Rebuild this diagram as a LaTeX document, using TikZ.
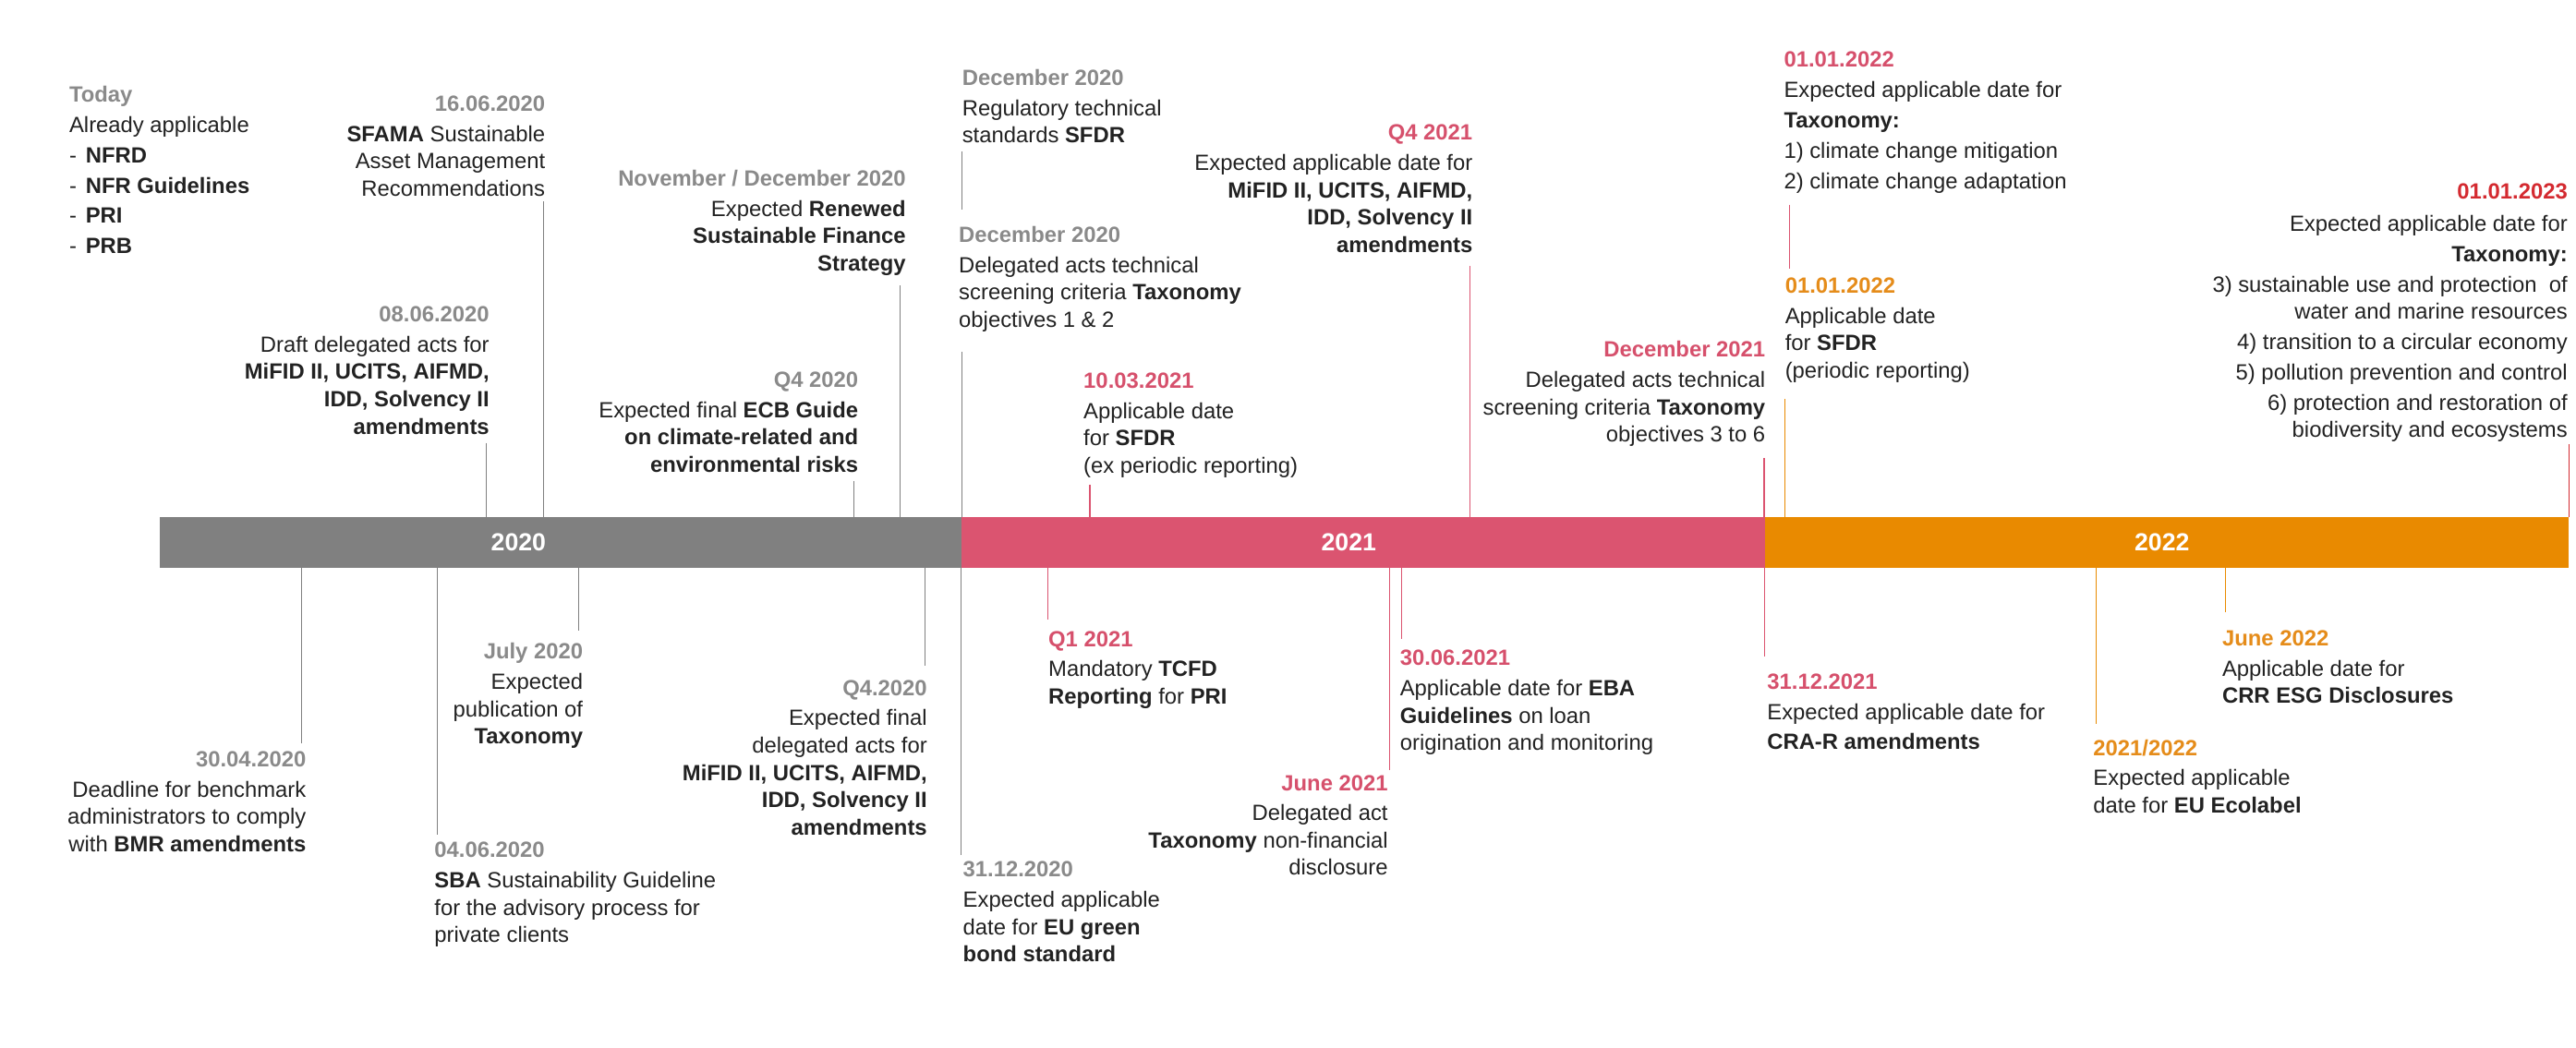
\documentclass[tikz,border=0pt]{standalone}
\usepackage{fontspec}
\setmainfont{Liberation Sans}
\usetikzlibrary{positioning}
\definecolor{grey20}{RGB}{128,128,128}
\definecolor{rose21}{RGB}{219,84,112}
\definecolor{amber22}{RGB}{233,138,0}
\definecolor{datgrey}{RGB}{138,138,138}
\definecolor{datrose}{RGB}{214,80,108}
\definecolor{datamber}{RGB}{229,140,26}
\definecolor{datred}{RGB}{212,42,48}
\definecolor{txt}{RGB}{34,34,34}
\newcommand{\dategrey}[1]{\textcolor{datgrey}{\textbf{#1}}}
\newcommand{\daterose}[1]{\textcolor{datrose}{\textbf{#1}}}
\newcommand{\dateamber}[1]{\textcolor{datamber}{\textbf{#1}}}
\newcommand{\datered}[1]{\textcolor{datred}{\textbf{#1}}}
\newcommand{\dashitem}{\makebox[10pt][l]{-}}

\begin{document}
\begin{tikzpicture}[x=1pt, y=-1pt,
  every node/.style={inner xsep=0pt, inner ysep=0pt, text=txt, font=\fontsize{13.4}{16.6}\selectfont},
  evr/.style={anchor=north east, align=right},
  evl/.style={anchor=north west, align=left},
  l20/.style={draw=grey20, line width=0.6pt},
  l21/.style={draw=rose21, line width=0.6pt},
  l22/.style={draw=amber22, line width=0.6pt},
  l23/.style={draw=datred, line width=0.6pt},
  yr/.style={text=white, font=\fontsize{15}{18}\selectfont\bfseries}]
\fill[white] (0,0) rectangle (1568,638);
\useasboundingbox (0,0) rectangle (1568,638);

% time bar
\fill[grey20] (97,315) rectangle (585.3,345.5);
\fill[rose21] (585.3,315) rectangle (1074.6,345.5);
\fill[amber22] (1074.6,315) rectangle (1563.5,345.5);
\coordinate (bartop) at (0,315);
\coordinate (barbot) at (0,345.5);
\foreach \x/\yr in {315.6/2020,821/2021,1316/2022}
  \node[yr] (y\yr) at (\x,330.3) {\yr};

% above the bar
\node[evl] (today) at (42,52.4) {\dategrey{Today}\\[1.9pt] Already applicable\\[1.8pt]
  \dashitem\textbf{NFRD}\\[1.8pt] \dashitem\textbf{NFR Guidelines}\\[1.8pt]
  \dashitem\textbf{PRI}\\[1.8pt] \dashitem\textbf{PRB}};
\node[evr] (sfama) at (332,58) {\dategrey{16.06.2020}\\[1.9pt] \textbf{SFAMA} Sustainable\\
  Asset Management\\ Recommendations};
\node[evr] (draft) at (298,186.4) {\dategrey{08.06.2020}\\[1.9pt] Draft delegated acts for\\
  \textbf{MiFID II, UCITS, AIFMD,}\\ \textbf{IDD, Solvency II}\\ \textbf{amendments}};
\node[evr] (renew) at (551.5,103.2) {\dategrey{November / December 2020}\\[1.9pt] Expected \textbf{Renewed}\\
  \textbf{Sustainable Finance}\\ \textbf{Strategy}};
\node[evr] (ecb) at (522.6,226.2) {\dategrey{Q4 2020}\\[1.9pt] Expected final \textbf{ECB Guide}\\
  \textbf{on climate-related and}\\ \textbf{environmental risks}};
\node[evl] (rts) at (585.5,42) {\dategrey{December 2020}\\[1.9pt] Regulatory technical\\
  standards \textbf{SFDR}};
\node[evl] (taxa) at (583.5,137.6) {\dategrey{December 2020}\\[1.9pt] Delegated acts technical\\
  screening criteria \textbf{Taxonomy}\\ objectives 1 \& 2};
\node[evl] (sfdra) at (659.4,226.8) {\daterose{10.03.2021}\\[1.9pt] Applicable date\\
  for \textbf{SFDR}\\ (ex periodic reporting)};
\node[evr] (mifid) at (896.5,75.7) {\daterose{Q4 2021}\\[1.9pt] Expected applicable date for\hspace*{5pt}\\
  \textbf{MiFID II, UCITS, AIFMD,}\\ \textbf{IDD, Solvency II}\\ \textbf{amendments}};
\node[evr] (taxb) at (1074.7,207.5) {\daterose{December 2021}\\[1.9pt] Delegated acts technical\\
  screening criteria \textbf{Taxonomy}\\ objectives 3 to 6};
\node[evl] (taxc) at (1085.7,31.3) {\daterose{01.01.2022}\\[1.9pt] Expected applicable date for\\[1.9pt]
  \textbf{Taxonomy:}\\[1.9pt] 1) climate change mitigation\\[1.9pt] 2) climate change adaptation};
\node[evl] (sfdrb) at (1086.4,168.9) {\dateamber{01.01.2022}\\[1.9pt] Applicable date\\
  for \textbf{SFDR}\\ (periodic reporting)};
\node[evr] (taxd) at (1563,111.7) {\datered{01.01.2023}\\[2.9pt] Expected applicable date for\\[1.9pt]
  \textbf{Taxonomy:}\\[1.9pt] 3) sustainable use and protection\ \ of\\
  water and marine resources\hspace*{4pt}\\[1.9pt] 4) transition to a circular economy\\[1.9pt]
  5) pollution prevention and control\\[1.9pt] 6) protection and restoration of\\
  biodiversity and ecosystems};

% below the bar
\node[evr] (bmr) at (186.5,457.2) {\dategrey{30.04.2020}\\[1.9pt] Deadline for benchmark\\
  administrators to comply\\ with \textbf{BMR amendments}};
\node[evr] (pub) at (355,391.4) {\dategrey{July 2020}\\[1.9pt] Expected\\ publication of\\ \textbf{Taxonomy}};
\node[evl] (sba) at (264.3,512.5) {\dategrey{04.06.2020}\\[1.9pt] \textbf{SBA} Sustainability Guideline\\
  for the advisory process for\\ private clients};
\node[evr] (final) at (564.5,413.8) {\dategrey{Q4.2020}\\[1.9pt] Expected final\\ delegated acts for\\
  \textbf{MiFID II, UCITS, AIFMD,}\\ \textbf{IDD, Solvency II}\\ \textbf{amendments}};
\node[evl] (green) at (586,524.5) {\dategrey{31.12.2020}\\[1.9pt] Expected applicable\\
  date for \textbf{EU green}\\ \textbf{bond standard}};
\node[evl] (tcfd) at (638,384) {\daterose{Q1 2021}\\[1.9pt] Mandatory \textbf{TCFD}\\
  \textbf{Reporting} for \textbf{PRI}};
\node[evr] (nonfin) at (845,471.7) {\daterose{June 2021}\\[1.9pt] Delegated act\\
  \textbf{Taxonomy} non-financial\\ disclosure};
\node[evl] (eba) at (852,395.7) {\daterose{30.06.2021}\\[1.9pt] Applicable date for \textbf{EBA}\\
  \textbf{Guidelines} on loan\\ origination and monitoring};
\node[evl] (cra) at (1075.5,409.9) {\daterose{31.12.2021}\\[1.9pt] Expected applicable date for\\[1.9pt]
  \textbf{CRA-R amendments}};
\node[evl] (eco) at (1274,450) {\dateamber{2021/2022}\\[1.9pt] Expected applicable\\
  date for \textbf{EU Ecolabel}};
\node[evl] (crr) at (1352.5,383.6) {\dateamber{June 2022}\\[1.9pt] Applicable date for\\
  \textbf{CRR ESG Disclosures}};

% connectors above
\draw[l20, shorten <=3pt] ([xshift=-1pt]sfama.south east) -- ([xshift=-1pt]sfama.south east |- bartop);
\draw[l20, shorten <=5pt] ([xshift=-2pt]draft.south east) -- ([xshift=-2pt]draft.south east |- bartop);
\draw[l20, shorten <=6pt] ([xshift=-3.5pt]renew.south east) -- ([xshift=-3.5pt]renew.south east |- bartop);
\draw[l20, shorten <=5pt] ([xshift=-2.6pt]ecb.south east) -- ([xshift=-2.6pt]ecb.south east |- bartop);
\draw[l20, shorten <=5pt, shorten >=10pt] (rts.south west) -- (rts.south west |- taxa.north);
\draw[l20, shorten <=12pt] (taxa.south west -| rts.south west) -- (rts.south west |- bartop);
\draw[l21, shorten <=4pt] ([xshift=4pt]sfdra.south west) -- ([xshift=4pt]sfdra.south west |- bartop);
\draw[l21, shorten <=8pt] ([xshift=-1.7pt]mifid.south east) -- ([xshift=-1.7pt]mifid.south east |- bartop);
\draw[l21, shorten <=7pt] ([xshift=-0.9pt]taxb.south east) -- ([xshift=-0.9pt]taxb.south east |- bartop);
\draw[l21, shorten <=6.7pt, shorten >=5.3pt] ([xshift=3.5pt]taxc.south west) -- ([xshift=3.5pt]taxc.south west |- sfdrb.north);
\draw[l22, shorten <=10pt] (sfdrb.south west) -- (sfdrb.south west |- bartop);
\draw[l23, shorten <=1pt] ([xshift=0.8pt]taxd.south east) -- ([xshift=0.8pt]taxd.south east |- bartop);

% connectors below
\draw[l20, shorten >=4.6pt] ([xshift=-2.9pt]bmr.north east |- barbot) -- ([xshift=-2.9pt]bmr.north east);
\draw[l20, shorten >=7.4pt] ([xshift=-3pt]pub.north east |- barbot) -- ([xshift=-3pt]pub.north east);
\draw[l20, shorten >=4.5pt] ([xshift=1.7pt]sba.north west |- barbot) -- ([xshift=1.7pt]sba.north west);
\draw[l20, shorten >=8.6pt] ([xshift=-1.7pt]final.north east |- barbot) -- ([xshift=-1.7pt]final.north east);
\draw[l20, shorten >=3.9pt] ([xshift=-1pt]green.north west |- barbot) -- ([xshift=-1pt]green.north west);
\draw[l21, shorten >=7pt] (tcfd.north west |- barbot) -- (tcfd.north west);
\draw[l21, shorten >=3.1pt] ([xshift=1pt]nonfin.north east |- barbot) -- ([xshift=1pt]nonfin.north east);
\draw[l21, shorten >=6.9pt] ([xshift=1.2pt]eba.north west |- barbot) -- ([xshift=1.2pt]eba.north west);
\draw[l21, shorten >=10.2pt] ([xshift=-1.5pt]cra.north west |- barbot) -- ([xshift=-1.5pt]cra.north west);
\draw[l22, shorten >=9pt] ([xshift=2pt]eco.north west |- barbot) -- ([xshift=2pt]eco.north west);
\draw[l22, shorten >=10.9pt] ([xshift=1.9pt]crr.north west |- barbot) -- ([xshift=1.9pt]crr.north west);
\end{tikzpicture}
\end{document}
